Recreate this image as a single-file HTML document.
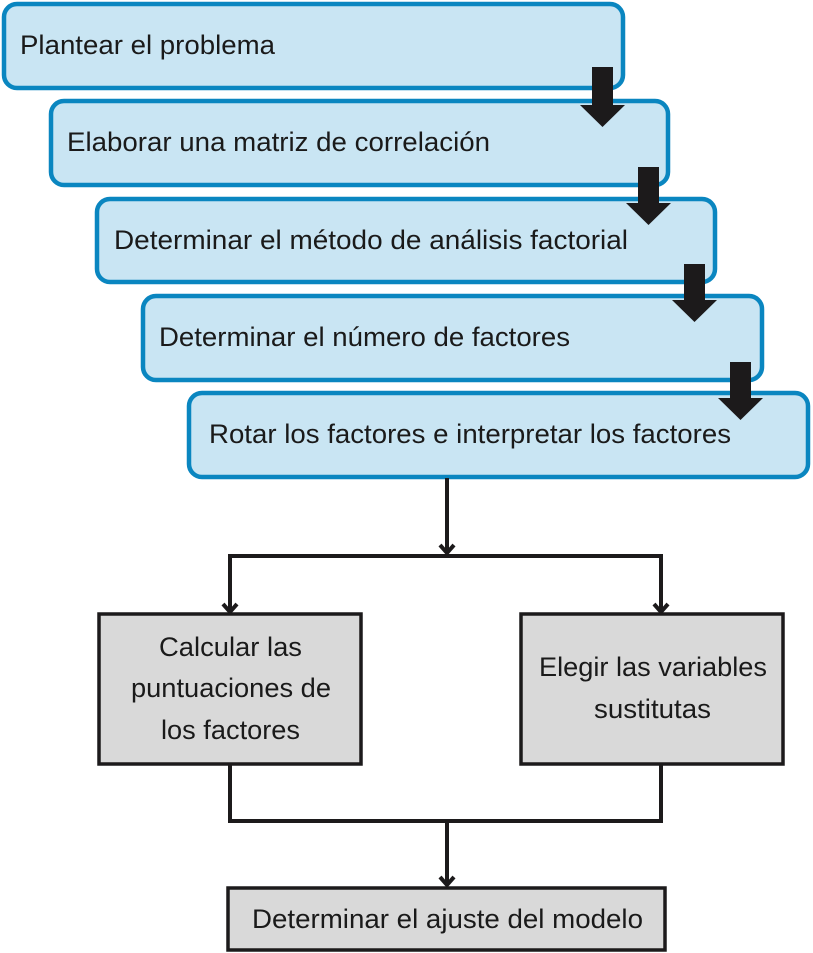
<!DOCTYPE html>
<html><head><meta charset="utf-8"><style>html,body{margin:0;padding:0;background:#fff}svg{display:block}</style></head>
<body>
<svg width="813" height="953" viewBox="0 0 813 953" xmlns="http://www.w3.org/2000/svg" font-family="Liberation Sans, sans-serif" font-size="27" fill="#1a1a1a">
<g fill="#c9e5f3" stroke="#0a86c0" stroke-width="4.5">
<rect x="4" y="4" width="619" height="84" rx="13"/>
<rect x="51" y="101" width="617" height="84" rx="13"/>
<rect x="97" y="199" width="618" height="83" rx="13"/>
<rect x="143" y="296" width="619" height="84" rx="13"/>
<rect x="189" y="393" width="619" height="84" rx="13"/>
</g>
<g fill="#1c1a1b">
<polygon points="592,67 613,67 613,105 625,105 602.5,127 580,105 592,105"/>
<polygon points="638,167 659,167 659,203 671,203 648.5,225 626,203 638,203"/>
<polygon points="684,264 705,264 705,300 717,300 694.5,322 672,300 684,300"/>
<polygon points="730,362 751,362 751,398 763,398 740.5,420 718,398 730,398"/>
</g>

<g stroke="#1c1a1b" stroke-width="4" fill="none">
<line x1="447" y1="478" x2="447" y2="553"/>
<polyline points="230,612 230,556 661,556 661,612"/>
<polyline points="440,545 447,553 454,545"/>
<polyline points="223,604 230,612 237,604"/>
<polyline points="654,604 661,612 668,604"/>
<polyline points="230,765 230,821 661,821 661,765"/>
<line x1="447" y1="821" x2="447" y2="885"/>
<polyline points="440,877 447,885 454,877"/>
</g>
<g fill="#d9d9d9" stroke="#1c1a1b" stroke-width="3.5">
<rect x="99" y="614" width="262" height="150"/>
<rect x="521" y="614" width="262" height="150"/>
<rect x="228" y="888" width="437" height="62"/>
</g>

<text x="20" y="54" textLength="255" lengthAdjust="spacingAndGlyphs">Plantear el problema</text>
<text x="67" y="151" textLength="423" lengthAdjust="spacingAndGlyphs">Elaborar una matriz de correlación</text>
<text x="114" y="249" textLength="514" lengthAdjust="spacingAndGlyphs">Determinar el método de análisis factorial</text>
<text x="159" y="346" textLength="411" lengthAdjust="spacingAndGlyphs">Determinar el número de factores</text>
<text x="209" y="443" textLength="522" lengthAdjust="spacingAndGlyphs">Rotar los factores e interpretar los factores</text>
<text x="159" y="656" textLength="143" lengthAdjust="spacingAndGlyphs">Calcular las</text>
<text x="131" y="697" textLength="200" lengthAdjust="spacingAndGlyphs">puntuaciones de</text>
<text x="161" y="739" textLength="139" lengthAdjust="spacingAndGlyphs">los factores</text>
<text x="539" y="676" textLength="228" lengthAdjust="spacingAndGlyphs">Elegir las variables</text>
<text x="594" y="718" textLength="117" lengthAdjust="spacingAndGlyphs">sustitutas</text>
<text x="252" y="928" textLength="391" lengthAdjust="spacingAndGlyphs">Determinar el ajuste del modelo</text>
</svg>
</body></html>
